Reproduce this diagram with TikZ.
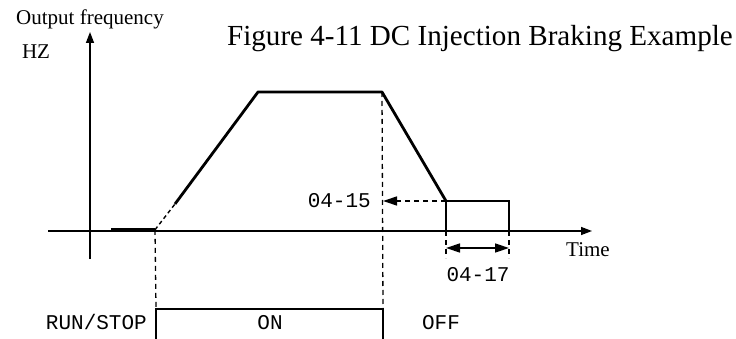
\documentclass[tikz,border=0pt]{standalone}
\usepackage{fontspec}
\setmainfont{Liberation Serif}
\setmonofont{Liberation Mono}
\usetikzlibrary{arrows.meta,positioning}

\begin{document}
\begin{tikzpicture}[x=1pt,y=-1pt,
    axis/.style={line width=1.4pt,-{Triangle[length=11pt,width=8pt]}},
    curve/.style={line width=2.8pt,line join=round},
    edge/.style={line width=1.4pt},
    guide/.style={line width=1.3pt,dash pattern=on 5pt off 4pt},
    mono/.style={inner sep=0pt,font=\fontsize{21}{23}\ttfamily},
    serif/.style={inner sep=0pt,font=\fontsize{21}{23}\selectfont}]
  \useasboundingbox (0,0) rectangle (736,339);
  % axes
  \coordinate (xs) at (48,231);
  \coordinate (xe) at (592,231);
  \coordinate (ys) at (90,259);
  \coordinate (ye) at (90,32);
  \draw[axis] (xs) -- (xe);
  \draw[axis] (ys) -- (ye);
  \node[serif] (of) at (90,19) {Output frequency};
  \node[serif] (hz) at (36,52) {HZ};
  \node[serif] (time) at (588,250) {Time};
  \node[font=\fontsize{29.1}{31}\selectfont,inner sep=0pt,anchor=base east] (title) at (733,46)
    {Figure 4-11 DC Injection Braking Example};
  % frequency curve
  \coordinate (s0) at (111,229.8);
  \coordinate (s1) at (155,229.8);
  \coordinate (s2) at (175,204);
  \coordinate (p1) at (258,92);
  \coordinate (p2) at (382,92);
  \coordinate (b1) at (446,201);
  \coordinate (b2) at (509,201);
  \coordinate (b3) at (509,231);
  \coordinate (b4) at (446,231);
  \draw[curve,line width=3.4pt] (s0) -- (s1);
  \draw[edge,dash pattern=on 4pt off 3pt] (s1) -- (s2);
  \draw[curve] (s2) -- (p1) -- (p2) -- (b1);
  \draw[edge] (b4) -- (b1) -- (b2) -- (b3);
  % DC braking level
  \coordinate (g1) at (383,201);
  \draw[guide,-{Triangle[length=14pt,width=9pt]}] (b1) -- (g1);
  \node[mono,anchor=east] (lvl) at (371,201) {04-15};
  % braking time
  \coordinate (t1) at (446,258);
  \coordinate (t2) at (509,258);
  \draw[guide] (b4) -- (t1);
  \draw[guide] (b3) -- (t2);
  \coordinate (d1) at (446,248);
  \coordinate (d2) at (509,248);
  \draw[edge,{Triangle[length=14pt,width=9pt]}-{Triangle[length=14pt,width=9pt]}] (d1) -- (d2);
  \node[mono] (dur) at (478,275) {04-17};
  % run/stop signal
  \coordinate (r1) at (156,309);
  \coordinate (r2) at (383,309);
  \coordinate (r0) at (156,339);
  \coordinate (r3) at (383,339);
  \draw[guide] (s1) -- (r1);
  \draw[guide] (p2) -- (r2);
  \draw[edge] (r0) -- (r1) -- (r2) -- (r3);
  \node[mono,anchor=east] (run) at (147,322) {RUN/STOP};
  \node[mono] (on) at (270,323) {ON};
  \node[mono] (off) at (441,323) {OFF};
\end{tikzpicture}
\end{document}
